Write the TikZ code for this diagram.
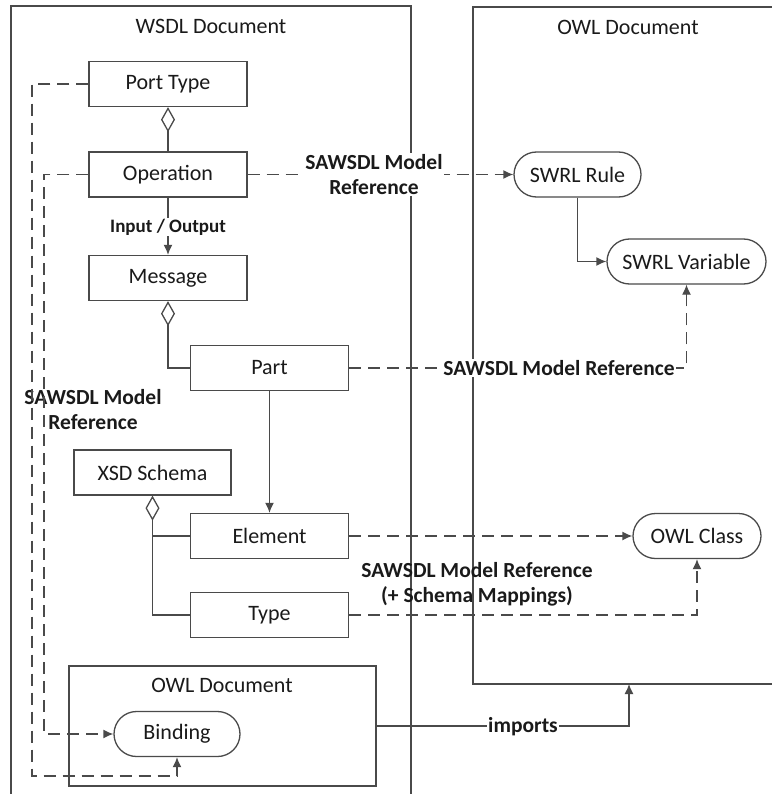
\documentclass[tikz,border=0pt]{standalone}
\usepackage{fontspec}
\setmainfont{Carlito}
\usetikzlibrary{arrows.meta,shapes.misc}
\definecolor{ln}{HTML}{4A4A4A}
\definecolor{tx}{HTML}{1A1A1A}
\begin{document}
\begin{tikzpicture}[x=1pt,y=-1pt,
  font=\fontsize{22}{25}\selectfont, text=tx,
  every path/.style={line width=1.3pt},
  box/.style={draw=ln, line width=1.3pt, fill=white, rectangle, minimum width=158pt, minimum height=45pt, inner sep=0pt},
  pill/.style={draw=ln, line width=1.3pt, fill=white, rounded rectangle, minimum height=45pt, inner sep=0pt},
  conn/.style={draw=ln, line width=1.3pt},
  dsh/.style={conn, dash pattern=on 12pt off 7pt},
  tip/.style={-{Latex[length=10pt,width=9pt]}},
  agg/.style={{Diamond[open,length=25pt,width=14pt]}-},
  lbl/.style={font=\bfseries\fontsize{21.5}{25}\selectfont, align=center, inner sep=1pt},
  ttl/.style={inner sep=0pt}]
\useasboundingbox (0,0) rectangle (771,794);

% containers
\coordinate (wbl) at (11,800);
\coordinate (wtl) at (11,6);
\coordinate (wtr) at (411,6);
\coordinate (wbr) at (411,800);
\draw[conn] (wbl) -- (wtl) -- (wtr) -- (wbr);
\node[ttl] (wsdlt) at (211,26) {WSDL Document};

\coordinate (otr) at (775,7);
\coordinate (otl) at (473,7);
\coordinate (obl) at (473,684);
\coordinate (obr) at (775,684);
\draw[conn] (otr) -- (otl) -- (obl) -- (obr);
\node[ttl] (owlt) at (628,27) {OWL Document};

\node[draw=ln, line width=1.3pt, minimum width=307pt, minimum height=120pt, inner sep=0pt] (owlin) at (222.5,726) {};
\node[ttl] (owlint) at (222,685) {OWL Document};

% nodes
\node[box] (pt) at (168,84) {Port Type};
\node[box] (op) at (168,174.5) {Operation};
\node[box] (msg) at (168,278) {Message};
\node[box] (part) at (269.5,368) {Part};
\node[box] (elem) at (269.5,536) {Element};
\node[box] (type) at (269.5,615) {Type};
\node[box, minimum width=157pt] (xsd) at (152.5,472.5) {XSD Schema};
\node[pill, minimum width=127pt] (swrlr) at (577.5,174.5) {SWRL Rule};
\node[pill, minimum width=159pt] (swrlv) at (686.5,261.5) {SWRL Variable};
\node[pill, minimum width=128pt] (owlc) at (697,536) {OWL Class};
\node[pill, minimum width=126pt] (bind) at (177,734) {Binding};

% helper coordinates
\coordinate (c1) at (32,776);
\coordinate (c2) at (44,734);
\coordinate (c3) at (629,726);
\coordinate (owlbot) at (629,684);

% left label (lines cross it)
\node[lbl] (lref) at (93,410) {SAWSDL Model\\Reference};

% solid connectors
\draw[conn, agg] (pt.south) -- (op.north);
\draw[conn, tip] (op.south) -- (msg.north);
\draw[conn, agg] (msg.south) |- (part.west);
\draw[conn, tip] (part.south) -- (elem.north);
\draw[conn, agg] (xsd.south) |- (type.west);
\draw[conn] (xsd.south |- elem.west) -- (elem.west);
\draw[conn, tip] (swrlr.south) |- (swrlv.west);
\draw[conn, tip] (owlin.east) -- (c3) -- (owlbot);

% dashed connectors
\draw[dsh, tip] (op.east) -- (swrlr.west);
\draw[dsh, tip] (part.east) -| (swrlv.south);
\draw[dsh, tip] (elem.east) -- (owlc.west);
\draw[dsh, tip] (type.east) -| (owlc.south);
\draw[dsh, tip] (pt.west) -| (c1) -| (bind.south);
\draw[dsh, tip] (op.west) -| (c2) -- (bind.west);

% labels
\node[lbl, fill=white, font=\bfseries\fontsize{19}{22}\selectfont] (io) at (168,227) {Input / Output};
\node[lbl, fill=white] (oplbl) at (374,174.5) {SAWSDL Model\\Reference};
\node[lbl, fill=white] (partlbl) at (559,368) {SAWSDL Model Reference};
\node[lbl] (schlbl) at (477,584) {SAWSDL Model Reference\\(+ Schema Mappings)};
\node[lbl, fill=white] (imp) at (523,727) {imports};
\end{tikzpicture}
\end{document}
